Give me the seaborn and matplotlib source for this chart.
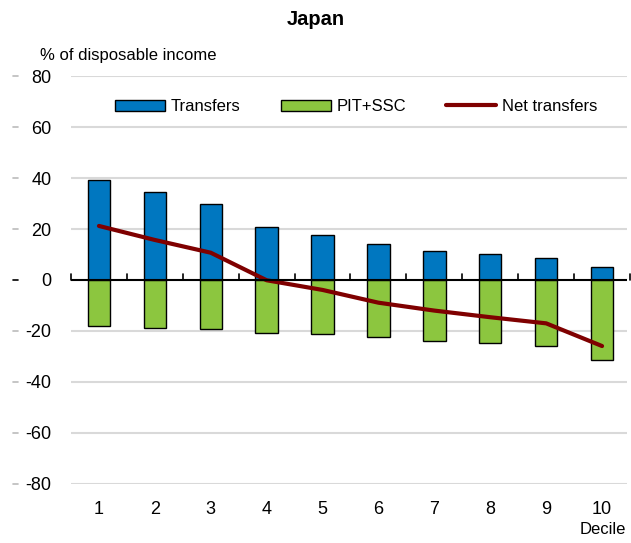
import matplotlib
matplotlib.use("Agg")
import matplotlib.pyplot as plt
import matplotlib.patches as mpatches
import matplotlib.lines as mlines
import seaborn as sns
import pandas as pd

deciles = ["1", "2", "3", "4", "5", "6", "7", "8", "9", "10"]
transfers = [39.2, 34.5, 29.8, 20.7, 17.6, 14.0, 11.5, 10.2, 8.5, 5.1]
pit_ssc = [-17.9, -18.8, -19.1, -20.7, -21.2, -22.5, -23.8, -24.8, -25.8, -31.4]
net_transfers = [21.2, 15.7, 10.7, -0.1, -3.9, -8.9, -12.0, -14.6, -17.0, -25.9]

blue = "#0077C0"
green = "#8CC63F"
red = "#7F0000"

sns.set_style("white")
plt.rcParams["font.family"] = ["Liberation Sans", "DejaVu Sans"]
plt.rcParams["axes.unicode_minus"] = False
plt.rcParams["text.color"] = "black"

df = pd.DataFrame({
    "Decile": deciles * 2,
    "value": transfers + pit_ssc,
    "series": ["Transfers"] * 10 + ["PIT+SSC"] * 10,
})

fig = plt.figure(figsize=(6.31, 5.43), dpi=100)
ax = fig.add_axes([0.1125, 0.1087, 0.8815, 0.7513])

sns.barplot(data=df, x="Decile", y="value", hue="series", dodge=False,
            palette={"Transfers": blue, "PIT+SSC": green}, width=0.4, saturation=1,
            edgecolor="black", linewidth=1.0, ax=ax, legend=False, zorder=3)

sns.lineplot(x=list(range(10)), y=net_transfers, color=red, linewidth=3,
             ax=ax, zorder=4)

ax.set_ylim(-80, 80)
ax.set_xlim(-0.5, 9.45)
ax.set_yticks(range(-80, 81, 20))
for y in range(-80, 81, 20):
    if y != 0:
        ax.axhline(y, color="#D9D9D9", linewidth=1.5, zorder=0)
ax.axhline(0, color="black", linewidth=1.5, zorder=5)
# small upward ticks on the zero line between categories
for xb in [i - 0.5 for i in range(11)]:
    ax.plot([xb, xb], [0, 2.2], color="black", linewidth=1.2, zorder=5, clip_on=False)

for s in ax.spines.values():
    s.set_visible(False)
ax.tick_params(axis="both", length=0, labelsize=13, colors="black")
ax.tick_params(axis="y", pad=14)
ax.tick_params(axis="x", pad=12)
ax.set_xlabel("")
ax.set_ylabel("")

# gray dashes left of y tick labels
for y in range(-80, 81, 20):
    ax.plot([-0.104, -0.095], [y, y], transform=ax.get_yaxis_transform(),
            color="#BBBBBB" if y != 0 else "black", linewidth=1.2, clip_on=False)

fig.text(0.5, 0.965, "Japan", ha="center", va="center", fontsize=14.5, fontweight="bold")
fig.text(0.063, 0.897, "% of disposable income", ha="left", va="center", fontsize=12)
fig.text(0.955, 0.025, "Decile", ha="center", va="center", fontsize=12)

handles = [
    mpatches.Patch(facecolor=blue, edgecolor="black", label="Transfers"),
    mpatches.Patch(facecolor=green, edgecolor="black", label="PIT+SSC"),
    mlines.Line2D([], [], color=red, linewidth=3, label="Net transfers"),
]
ax.legend(handles=handles, loc="center", bbox_to_anchor=(0.513, 0.925), ncol=3,
          frameon=False, fontsize=12, handlelength=3.0, handleheight=0.65,
          columnspacing=2.4, handletextpad=0.35)

fig.savefig("out.png", dpi=100)
